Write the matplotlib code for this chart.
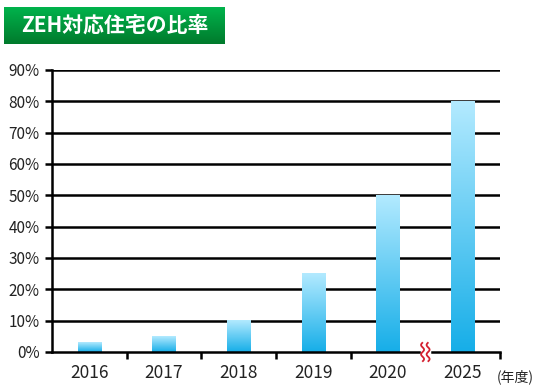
import numpy as np
import matplotlib
matplotlib.use("Agg")
import matplotlib.pyplot as plt
from matplotlib.colors import LinearSegmentedColormap

plt.rcParams['font.family'] = ['Noto Sans CJK JP', 'DejaVu Sans']

years = ["2016", "2017", "2018", "2019", "2020", "2025"]
ratios = [3, 5, 10, 25, 50, 80]
yticks = [0, 10, 20, 30, 40, 50, 60, 70, 80, 90]
title = "ZEH対応住宅の比率"
unit = "(年度)"

bar_cmap = LinearSegmentedColormap.from_list("bar", ["#16aee8", "#b3eaff"])
green_cmap = LinearSegmentedColormap.from_list("green", ["#007a2c", "#00b34c"])

fig = plt.figure(figsize=(5.41, 3.87), dpi=100)
ax = fig.add_axes([52 / 541, 1 - 352 / 387, 448 / 541, 282 / 387])

x = np.arange(len(years))
width = 0.31
grad = np.linspace(0, 1, 256).reshape(-1, 1)
for xi, v in zip(x, ratios):
    ax.imshow(grad, cmap=bar_cmap, origin='lower', aspect='auto',
              extent=[xi - width / 2, xi + width / 2, 0, v], zorder=3)

ax.set_xlim(-0.5, len(years) - 0.5)
ax.set_ylim(0, 90)
ax.set_yticks(yticks)
ax.set_yticklabels([f"{t}%" for t in yticks], fontsize=11, color="#222222")
ax.set_xticks(x)
ax.set_xticklabels(years, fontsize=12.5, color="#222222")
ax.tick_params(axis='x', length=0, pad=9)
ax.tick_params(axis='y', length=5, width=1.8, pad=4)

# boundary ticks below the axis (skip the break position)
ax.set_xticks([0.5, 1.5, 2.5, 3.5, 5.5], minor=True)
ax.tick_params(axis='x', which='minor', length=5, width=1.8, direction='out')

ax.yaxis.grid(True, color='black', linewidth=1.8)
ax.set_axisbelow(True)
ax.get_ygridlines()[0].set_visible(False)

for s in ['top', 'right', 'bottom']:
    ax.spines[s].set_visible(False)
ax.spines['left'].set_linewidth(1.8)

# baseline with a gap for the break mark
gap = 0.085
ax.plot([-0.5, 4.5 - gap], [0, 0], color='black', lw=1.8, clip_on=False, zorder=4)
ax.plot([4.5 + gap, 5.5], [0, 0], color='black', lw=1.8, clip_on=False, zorder=4)

wy = np.linspace(-2.9, 2.9, 80)
for off in (-0.037, 0.037):
    wx = 4.5 + off + 0.02 * np.sin(2 * np.pi * wy / 3.0)
    ax.plot(wx, wy, color='#d42030', lw=1.3, clip_on=False, zorder=5)

fig.text(497 / 541, 1 - 377 / 387, unit, fontsize=10, color="#222222",
         ha='left', va='center')

# title banner
tax = fig.add_axes([4 / 541, 1 - 44 / 387, 221 / 541, 37 / 387])
tax.imshow(grad, cmap=green_cmap, origin='lower', aspect='auto', extent=[0, 1, 0, 1])
tax.set_xlim(0, 1)
tax.set_ylim(0, 1)
tax.axis('off')
tax.text(0.5, 0.5, title, color='white', fontsize=15, fontweight='bold',
         ha='center', va='center')

fig.savefig("out.png", dpi=100)
